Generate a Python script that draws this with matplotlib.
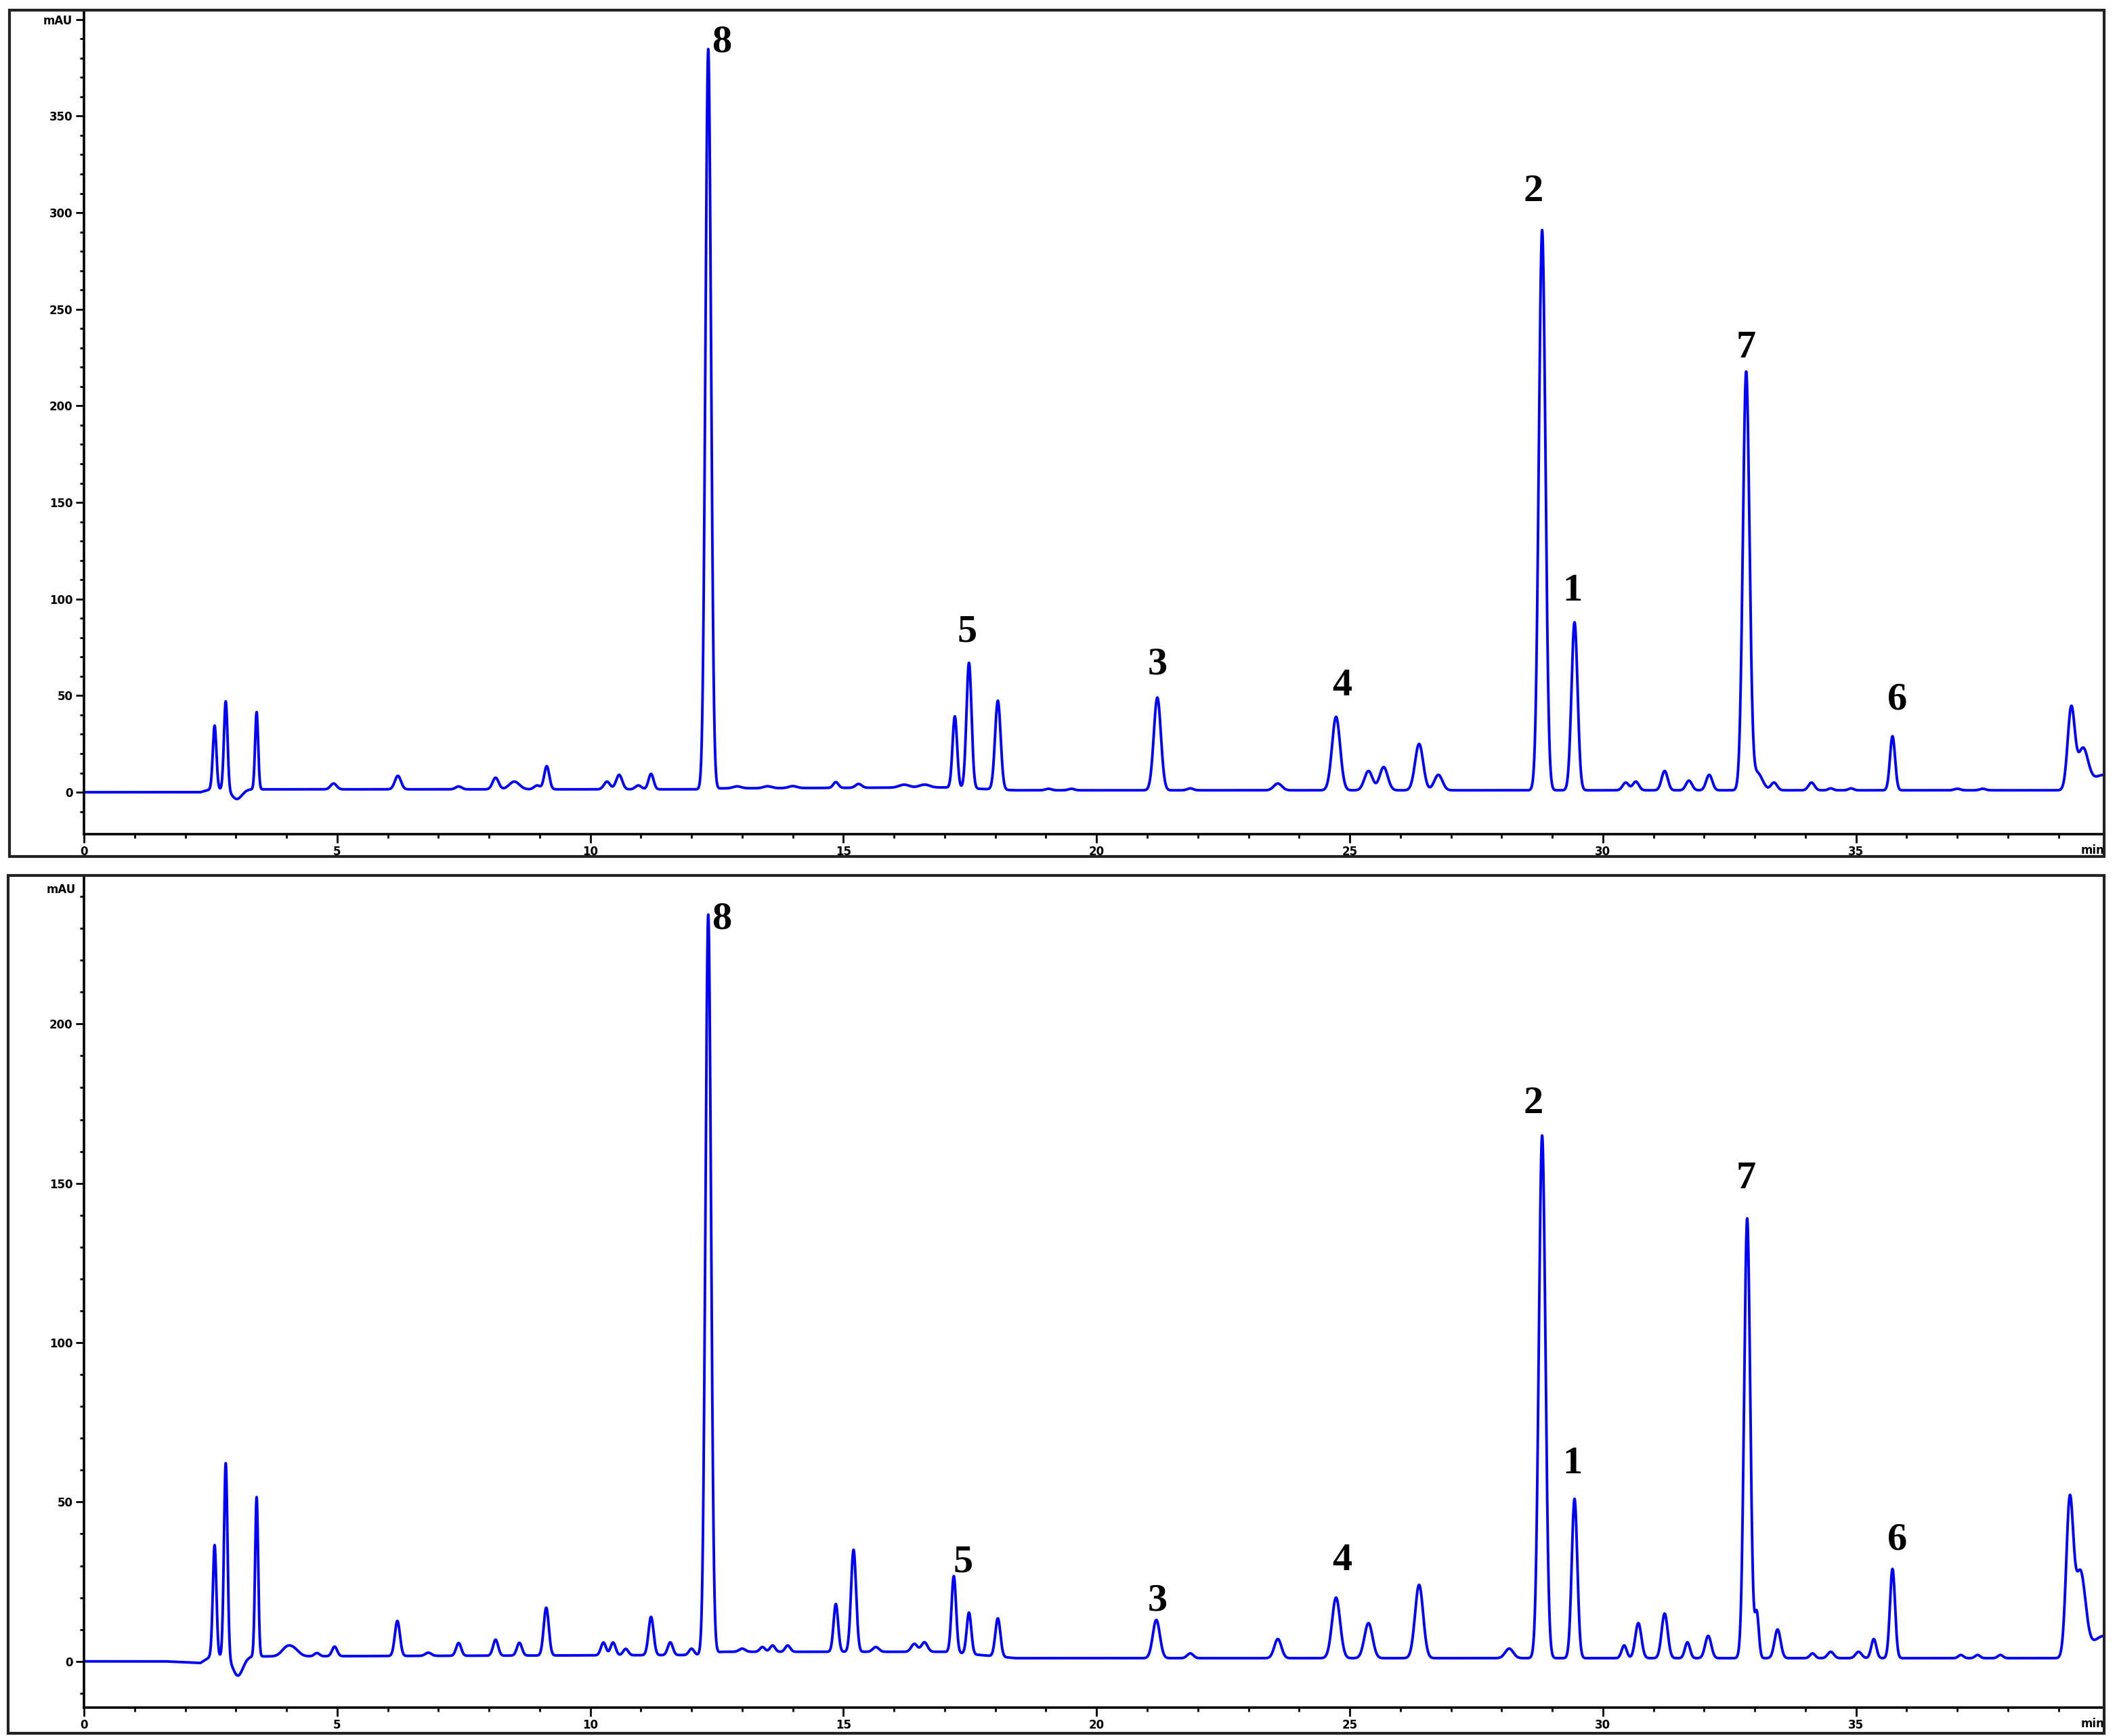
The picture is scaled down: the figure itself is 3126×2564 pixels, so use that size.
import numpy as np
import matplotlib
matplotlib.use('Agg')
import matplotlib.pyplot as plt
from matplotlib.patches import Rectangle

# peak table: retention time (min), height (mAU), width (sigma, min)
top_rt = [2.58, 2.80, 3.02, 3.41, 4.93, 6.20, 7.40, 8.13, 8.50, 8.95, 9.14, 10.33, 10.57,
          10.95, 11.20, 12.33, 12.90, 13.50, 14.00, 14.85, 15.30, 16.20, 16.60, 17.20, 17.48,
          18.05, 19.05, 19.50, 21.20, 21.85, 23.58, 24.73, 25.37, 25.67, 26.37, 26.75, 28.80,
          29.44, 30.45, 30.65, 31.22, 31.70, 32.10, 32.83, 33.05, 33.38, 34.12, 34.50, 34.90,
          35.72, 37.00, 37.50, 39.25, 39.48, 39.90]
top_height = [33, 46, -5, 40, 3, 7, 1.5, 6, 4, 2, 12, 4, 7.5,
              2, 8, 383, 1, 1, 1, 3, 2, 1.5, 1.5, 37, 65,
              46, 0.8, 0.8, 48, 1, 3.5, 38, 10, 12, 24, 8, 290,
              87, 4, 4.5, 10, 5, 8, 216, 9, 4, 4, 1, 1,
              28, 0.8, 0.8, 42, 20, 8]
top_width = [0.035, 0.035, 0.10, 0.03, 0.06, 0.06, 0.06, 0.06, 0.10, 0.06, 0.05, 0.06, 0.06,
             0.06, 0.05, 0.055, 0.08, 0.08, 0.08, 0.05, 0.06, 0.10, 0.10, 0.045, 0.05,
             0.055, 0.06, 0.06, 0.07, 0.06, 0.08, 0.08, 0.08, 0.08, 0.08, 0.08, 0.065,
             0.06, 0.06, 0.06, 0.06, 0.06, 0.06, 0.065, 0.10, 0.06, 0.06, 0.05, 0.05,
             0.05, 0.06, 0.06, 0.07, 0.10, 0.25]
top_base_t = [0, 2.3, 2.5, 12.2, 12.6, 17.0, 18.4, 21.0, 40]
top_base_y = [0, 0, 1.5, 1.5, 2.0, 2.5, 1.0, 1.0, 1.0]

bot_rt = [2.58, 2.80, 3.04, 3.41, 4.00, 4.15, 4.60, 4.95, 6.19, 6.80, 7.40, 8.13, 8.60,
          9.13, 10.26, 10.45, 10.70, 11.20, 11.58, 12.00, 12.33, 13.00, 13.40, 13.60, 13.90,
          14.85, 15.20, 15.64, 16.40, 16.60, 17.18, 17.48, 18.05, 21.18, 21.85, 23.58, 24.73,
          25.37, 26.37, 28.15, 28.80, 29.44, 30.42, 30.70, 31.22, 31.67, 32.08, 32.85, 33.04,
          33.45, 34.14, 34.50, 35.05, 35.35, 35.72, 37.07, 37.40, 37.85, 39.22, 39.43, 39.90]
bot_height = [35, 61, -6, 50, 2.5, 2, 1, 3, 11, 1, 4, 5, 4,
              15, 4, 4, 2, 12, 4, 2, 232, 1, 1.5, 2, 2,
              15, 32, 1.5, 2.5, 3, 24, 13, 12, 12, 1.5, 6, 19,
              11, 23, 3, 164, 50, 4, 11, 14, 5, 7, 138, 14,
              9, 1.5, 2, 2, 6, 28, 1, 1, 1, 48, 26, 7]
bot_width = [0.035, 0.035, 0.10, 0.03, 0.10, 0.10, 0.05, 0.05, 0.05, 0.06, 0.05, 0.05, 0.05,
             0.05, 0.05, 0.05, 0.05, 0.05, 0.05, 0.05, 0.055, 0.06, 0.05, 0.05, 0.05,
             0.045, 0.05, 0.06, 0.06, 0.06, 0.045, 0.045, 0.05, 0.07, 0.06, 0.07, 0.08,
             0.08, 0.08, 0.08, 0.065, 0.055, 0.05, 0.06, 0.06, 0.05, 0.06, 0.06, 0.04,
             0.06, 0.05, 0.06, 0.06, 0.05, 0.05, 0.05, 0.05, 0.05, 0.07, 0.10, 0.25]
bot_base_t = [0, 1.6, 2.3, 2.5, 12.2, 12.6, 17.0, 18.4, 21.0, 40]
bot_base_y = [0, 0, -0.5, 1.5, 2.0, 3.0, 3.0, 1.0, 1.0, 1.0]

# labelled compounds: label, x (min), y (mAU) of the label centre
labels = ['8', '5', '3', '4', '2', '1', '7', '6']
top_lab_x = [12.60, 17.44, 21.21, 24.85, 28.63, 29.40, 32.83, 35.82]
top_lab_y = [388, 83, 66, 55, 311, 104, 230, 48]
bot_lab_x = [12.60, 17.36, 21.21, 24.85, 28.63, 29.40, 32.83, 35.82]
bot_lab_y = [233, 31, 19, 31.5, 175, 62, 151.5, 38]

top_yticks = [0, 50, 100, 150, 200, 250, 300, 350, 400]
bot_yticks = [0, 50, 100, 150, 200]
xticks = [0, 5, 10, 15, 20, 25, 30, 35]

t = np.linspace(0, 40, 8001)


def trace(rt, height, width, base_t, base_y):
    y = np.interp(t, base_t, base_y)
    for r, h, w in zip(rt, height, width):
        y = y + h * np.exp(-0.5 * ((t - r) / w) ** 2)
    return y


def style_axis(ax, yticks, ylim, top_unit_tick):
    ax.set_xlim(0, 39.9)
    ax.set_ylim(*ylim)
    for side in ['top', 'right']:
        ax.spines[side].set_visible(False)
    for side in ['left', 'bottom']:
        ax.spines[side].set_linewidth(2.6)
    ax.set_xticks(xticks)
    ax.set_xticks(np.arange(0, 40, 1), minor=True)
    ax.set_xticklabels([str(v) for v in xticks])
    ax.set_yticks(yticks)
    ax.set_yticks(np.arange(-10, ylim[1], 10), minor=True)
    ylabels = [str(v) for v in yticks]
    if top_unit_tick:
        ylabels[-1] = 'mAU'
    else:
        ax.text(-0.004, 0.99, 'mAU', transform=ax.transAxes, ha='right', va='top',
                fontsize=12, fontweight='bold')
    ax.set_yticklabels(ylabels)
    ax.tick_params(which='major', length=9, width=2, labelsize=12, pad=3)
    ax.tick_params(which='minor', length=4, width=2)
    for lab in ax.get_xticklabels() + ax.get_yticklabels():
        lab.set_fontweight('bold')
    ax.text(1.0, -0.012, 'min', transform=ax.transAxes, ha='right', va='top',
            fontsize=12, fontweight='bold')


fig = plt.figure(figsize=(31.26, 25.64), dpi=100)

# outer frames around each panel
fig.patches.append(Rectangle((14 / 3126, 1 - 1265 / 2564), (3107 - 14) / 3126, (1265 - 15) / 2564,
                             transform=fig.transFigure, fill=False, lw=3, ec='#222222'))
fig.patches.append(Rectangle((12 / 3126, 1 - 2560 / 2564), (3107 - 12) / 3126, (2560 - 1293) / 2564,
                             transform=fig.transFigure, fill=False, lw=3, ec='#222222'))

ax1 = fig.add_axes([124 / 3126, 1 - 1232 / 2564, (3107 - 124) / 3126, (1232 - 15) / 2564])
ax2 = fig.add_axes([124 / 3126, 1 - 2522 / 2564, (3107 - 124) / 3126, (2522 - 1293) / 2564])
for ax in (ax1, ax2):
    ax.patch.set_alpha(0)

ax1.plot(t, trace(top_rt, top_height, top_width, top_base_t, top_base_y), color='#0000FF', lw=2.8)
ax2.plot(t, trace(bot_rt, bot_height, bot_width, bot_base_t, bot_base_y), color='#0000FF', lw=2.8)

style_axis(ax1, top_yticks, (-21.7, 404.8), True)
style_axis(ax2, bot_yticks, (-14.5, 246.6), False)

for lab, x, y in zip(labels, top_lab_x, top_lab_y):
    ax1.text(x, y, lab, ha='center', va='center', fontsize=42, fontweight='bold',
             family='Liberation Serif')
for lab, x, y in zip(labels, bot_lab_x, bot_lab_y):
    ax2.text(x, y, lab, ha='center', va='center', fontsize=42, fontweight='bold',
             family='Liberation Serif')

fig.savefig('out.png', dpi=100)
